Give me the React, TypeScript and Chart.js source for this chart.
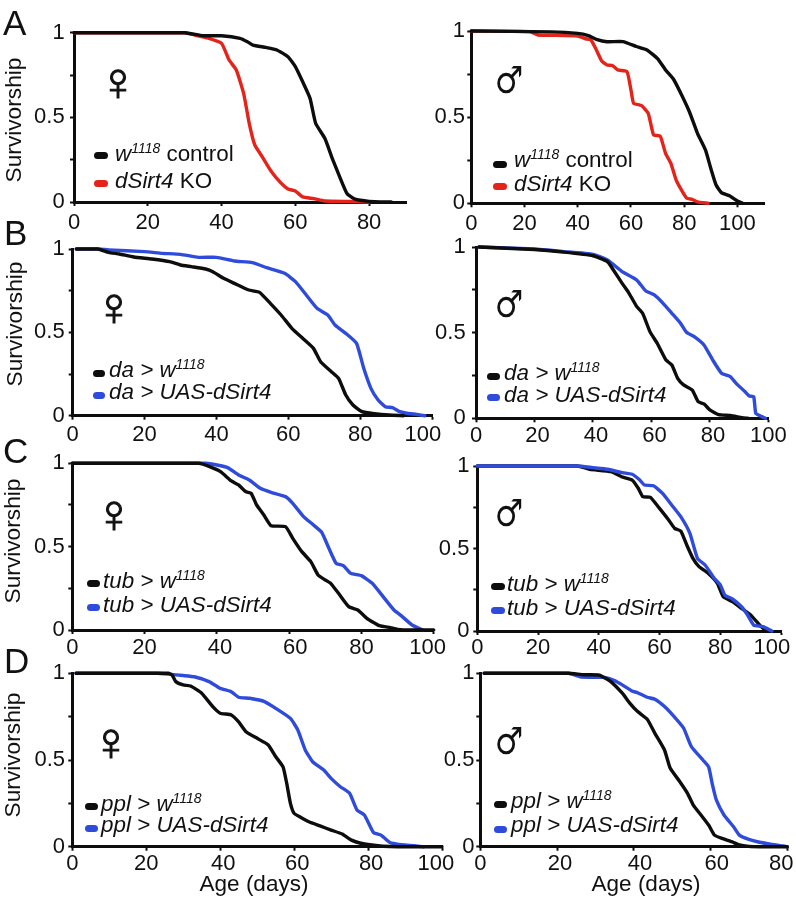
import React, { useEffect, useRef } from "react";
import { Chart, registerables } from "chart.js";

Chart.register(...registerables);

type Pt = [number, number];

const BLACK = "#0d0d0d";
const RED = "#e4231b";
const BLUE = "#2f4bdc";
const FONT = '"Liberation Sans", Arial, sans-serif';

const aFemaleControl: Pt[] = [[0,1],[30,1],[35,.982],[40,.982],[45,.967],[47,.947],[48.5,.927],[52,.913],[55,.898],[58,.858],[60,.8],[62,.71],[64,.612],[65.5,.465],[68,.376],[70,.258],[72,.15],[74,.05],[76,.018],[80,.004],[86,0]];
const aFemaleKO: Pt[] = [[0,1],[30,1],[33,.985],[36,.97],[40,.937],[42,.84],[44,.78],[46,.64],[47.5,.465],[49,.337],[51,.268],[53.5,.18],[56,.114],[58,.077],[60,.065],[62,.03],[65,.02],[68,.006],[75,.003],[80,0]];
const aMaleControl: Pt[] = [[0,1],[30,.995],[40,.986],[44,.973],[47,.952],[51,.938],[57,.938],[62,.91],[66,.89],[70,.84],[73,.774],[76,.72],[79,.63],[82,.53],[85,.406],[88,.31],[90,.203],[92,.106],[94,.062],[97,.044],[100,.013],[102,0]];
const aMaleKO: Pt[] = [[0,1],[17,.998],[22,.996],[25,.977],[30,.975],[40,.971],[43,.955],[45,.948],[47,.89],[49,.826],[51,.803],[53,.8],[55,.774],[58.5,.764],[60,.658],[61,.58],[64,.567],[66.5,.522],[68.5,.397],[71,.39],[73,.29],[75,.232],[77,.135],[79,.077],[81,.029],[83,.023],[85,.008],[89,0]];

const bFemaleControl: Pt[] = [[1,1],[7,1],[10,.98],[13,.97],[17,.952],[22,.94],[27,.924],[30,.904],[33,.894],[37,.88],[39,.864],[42,.824],[45,.794],[49,.754],[52,.74],[55,.674],[58,.604],[61,.524],[64,.464],[67,.404],[69,.324],[72,.264],[74,.224],[76,.124],[78,.064],[80.5,.024],[84,.012],[88,.004],[92,0]];
const bFemaleSirt: Pt[] = [[1,1],[7,1],[10,.995],[20,.984],[25,.974],[30,.968],[35,.95],[40,.95],[45,.928],[50,.918],[54,.888],[59,.854],[62,.804],[65,.724],[68,.644],[71,.604],[73,.544],[76,.494],[79,.434],[81,.284],[83,.164],[85,.094],[87,.054],[89,.048],[91,.024],[93,.015],[95,.01],[98,0]];
const bMaleControl: Pt[] = [[1,1],[20,.985],[30,.97],[40,.949],[45,.914],[47,.866],[50,.788],[52,.74],[55,.652],[57,.613],[59.5,.506],[62,.438],[65,.34],[67,.311],[69,.233],[71,.195],[74,.165],[76,.097],[78,.084],[80,.049],[83,.021],[87,.016],[91,.004],[93,0]];
const bMaleSirt: Pt[] = [[1,1],[20,.988],[30,.973],[40,.957],[45,.924],[50,.856],[55,.807],[58,.745],[61,.72],[64,.671],[67,.613],[70,.554],[72,.502],[75,.473],[78,.428],[81,.34],[84,.263],[87,.243],[89,.204],[92,.156],[93.5,.13],[95,.126],[95.7,.029],[97,.016],[99,0]];

const cFemaleControl: Pt[] = [[0,1],[35,1],[38,.98],[41,.95],[44,.894],[46,.87],[48,.83],[49.5,.82],[51,.75],[53,.69],[55,.626],[59,.62],[61,.55],[63.5,.47],[66,.41],[68,.33],[70,.3],[71.5,.28],[74,.21],[76.5,.14],[79,.12],[81.5,.07],[85,.026],[88,.014],[90,.004],[94,0],[100,0]];
const cFemaleSirt: Pt[] = [[0,1],[37,1],[40,.99],[43,.974],[46,.93],[49,.9],[52,.85],[55,.826],[59,.8],[61,.76],[64,.68],[66.5,.634],[69,.586],[71,.49],[73,.4],[75,.386],[77,.34],[80,.326],[83,.28],[86,.2],[89,.12],[91,.086],[94,.03],[97,0]];
const cMaleControl: Pt[] = [[0,1],[33,1],[37,.98],[44,.966],[47.5,.935],[51,.915],[53,.865],[54.5,.814],[57,.81],[60,.743],[63,.673],[65,.622],[67,.606],[69,.52],[71,.44],[73,.39],[76,.35],[79,.29],[81,.208],[84,.178],[87,.137],[90,.097],[93,.036],[94.5,.01],[96,0]];
const cMaleSirt: Pt[] = [[0,1],[33,1],[38,.99],[43,.98],[47,.962],[51,.95],[53.5,.915],[55,.885],[58,.88],[61,.834],[64,.764],[67,.693],[70,.592],[72.5,.44],[75,.4],[78,.32],[80,.28],[81.5,.218],[84,.194],[87,.147],[89,.097],[91,.036],[94,.026],[97,0]];

const dFemaleControl: Pt[] = [[1,1],[26,1],[27,.99],[28,.952],[30,.933],[32,.927],[35,.885],[38,.808],[40,.77],[43,.76],[45,.72],[47,.663],[50,.625],[53,.587],[55,.52],[57,.46],[58,.365],[59,.25],[60,.192],[61.5,.173],[64,.144],[67,.12],[70,.096],[73,.073],[75.5,.038],[78,.02],[81,.01],[84,.003],[88,0],[100,0]];
const dFemaleSirt: Pt[] = [[1,1],[23,1],[26,.995],[30,.987],[33,.98],[37,.952],[40,.913],[43,.894],[45,.862],[48,.856],[52,.837],[55,.798],[59,.74],[61,.673],[63,.558],[65,.49],[68,.442],[70,.394],[72.5,.346],[75,.308],[77,.212],[79,.183],[81.5,.081],[83.5,.067],[86,.023],[90,.01],[95,0]];
const dMaleControl: Pt[] = [[1,1],[23,1],[27,.992],[31,.99],[34,.952],[37,.885],[39,.827],[41,.779],[43.5,.735],[45.5,.654],[48,.558],[49.5,.452],[52,.375],[54,.308],[55.5,.24],[57.5,.183],[59.5,.125],[61,.067],[63,.048],[65.5,.029],[67.5,.01],[70,.002],[73,0],[80,0]];
const dMaleSirt: Pt[] = [[1,1],[23,1],[26,.98],[30,.977],[32,.977],[35,.958],[37,.933],[39.5,.898],[41,.888],[43.5,.862],[45.5,.85],[48,.808],[50.5,.75],[53,.683],[55,.577],[58,.5],[59.5,.46],[60.5,.356],[61.5,.27],[63.5,.183],[66,.115],[67.5,.067],[70,.042],[72.5,.027],[76,.013],[79,.004],[80,0]];

const yTickValues = [0, 0.25, 0.5, 0.75, 1];
const yTickLabels: Record<string, string> = { "0": "0", "0.5": "0.5", "1": "1" };
const YLABEL = "Survivorship";
const XLABEL = "Age (days)";
const FEMALE = "\u2640";
const MALE = "\u2642";

type Series = { data: Pt[]; color: string };
type Panel = {
  x0: number; xEnd: number; xMax: number; yTop: number; yBottom: number;
  series: Series[]; xPad: number; yGap: number;
  nudge?: Record<number, number>;
};

const panels: Panel[] = [
  { x0: 74, xEnd: 406, xMax: 90, yTop: 32.7, yBottom: 202, xPad: 4, yGap: 11, series: [{ data: aFemaleControl, color: BLACK }, { data: aFemaleKO, color: RED }] },
  { x0: 471.3, xEnd: 764, xMax: 110, yTop: 31, yBottom: 203.3, xPad: 3, yGap: 8, series: [{ data: aMaleControl, color: BLACK }, { data: aMaleKO, color: RED }] },
  { x0: 72.7, xEnd: 432, xMax: 100, yTop: 249, yBottom: 415.7, xPad: 2, yGap: 9.7, nudge: { 100: -3 }, series: [{ data: bFemaleControl, color: BLACK }, { data: bFemaleSirt, color: BLUE }] },
  { x0: 476, xEnd: 768.3, xMax: 100, yTop: 247, yBottom: 418.3, xPad: 0, yGap: 12, nudge: { 20: 1, 40: 1, 60: 1, 80: 1 }, series: [{ data: bMaleControl, color: BLACK }, { data: bMaleSirt, color: BLUE }] },
  { x0: 72.3, xEnd: 433.7, xMax: 100, yTop: 463.3, yBottom: 630, xPad: 1, yGap: 9.3, nudge: { 40: 1, 60: 2, 100: -2 }, series: [{ data: cFemaleControl, color: BLACK }, { data: cFemaleSirt, color: BLUE }] },
  { x0: 477.3, xEnd: 781, xMax: 100, yTop: 466, yBottom: 631, xPad: 0, yGap: 9.6, nudge: { 100: -3 }, series: [{ data: cMaleSirt, color: BLUE }, { data: cMaleControl, color: BLACK }] },
  { x0: 72.3, xEnd: 442, xMax: 100, yTop: 673.3, yBottom: 846.7, xPad: 0.5, yGap: 9, nudge: { 40: 1, 60: 1, 80: 1, 100: -2 }, series: [{ data: dFemaleControl, color: BLACK }, { data: dFemaleSirt, color: BLUE }] },
  { x0: 480.3, xEnd: 787.3, xMax: 80, yTop: 673.3, yBottom: 846.7, xPad: 0.5, yGap: 7.6, nudge: { 20: 1, 40: 2, 60: 2, 80: -2 }, series: [{ data: dMaleControl, color: BLACK }, { data: dMaleSirt, color: BLUE }] },
];

function nudged(v: number, n?: number) {
  const s = String(v);
  if (!n) return s;
  const pad = " ".repeat(Math.abs(n));
  return n > 0 ? pad + s : s + pad;
}

function PanelChart({ p }: { p: Panel }) {
  const ref = useRef<HTMLCanvasElement>(null);
  const L = Math.floor(p.x0 - 50);
  const T = Math.floor(p.yTop - 20);
  const W = Math.ceil(p.xEnd + 30 - L);
  const H = Math.ceil(p.yBottom + 36 - T);
  useEffect(() => {
    const chart = new Chart(ref.current as HTMLCanvasElement, {
      type: "line",
      data: {
        datasets: p.series.map((s) => ({
          data: s.data.map(([x, y]) => ({ x, y })),
          borderColor: s.color,
          borderWidth: 3.4,
          pointRadius: 0,
          tension: 0.15,
          borderCapStyle: "round",
          borderJoinStyle: "round",
          clip: false,
          fill: false,
        })),
      },
      options: {
        animation: false,
        responsive: false,
        maintainAspectRatio: false,
        layout: { padding: { left: 0, top: p.yTop - T, right: L + W - p.xEnd, bottom: 0 } },
        plugins: { legend: { display: false }, tooltip: { enabled: false }, title: { display: false } },
        scales: {
          x: {
            type: "linear",
            min: 0,
            max: p.xMax,
            border: { color: BLACK, width: 3 },
            grid: { drawOnChartArea: false, tickLength: 4, tickWidth: 2, tickColor: BLACK },
            ticks: {
              stepSize: 20,
              includeBounds: false,
              maxRotation: 0,
              autoSkip: false,
              padding: p.xPad,
              color: "#111",
              font: { family: FONT, size: 22 },
              callback: (v: any) => nudged(v, p.nudge?.[v]),
            },
            afterFit: (s: any) => { s.height = T + H - p.yBottom; },
          },
          y: {
            type: "linear",
            min: 0,
            max: 1,
            border: { color: BLACK, width: 3 },
            grid: { drawOnChartArea: false, tickLength: 4, tickWidth: 2, tickColor: BLACK },
            ticks: {
              stepSize: 0.25,
              padding: p.yGap - 5.7,
              color: "#111",
              font: { family: FONT, size: 22 },
              callback: (v: any) => yTickLabels[String(v)] ?? "",
            },
            afterBuildTicks: (s: any) => { s.ticks = yTickValues.map((value) => ({ value })); },
            afterFit: (s: any) => { s.width = p.x0 - L; },
          },
        },
      } as any,
    });
    return () => chart.destroy();
  }, []);
  return <canvas ref={ref} width={W} height={H} style={{ position: "absolute", left: L, top: T }} />;
}

function Txt({ x, base, size, children, style }: any) {
  return (
    <span style={{ position: "absolute", left: x, top: base - 0.8465 * size, fontFamily: FONT, fontSize: size, lineHeight: 1, whiteSpace: "nowrap", color: "#111", ...style }}>
      {children}
    </span>
  );
}

const Sup = () => (
  <span style={{ fontSize: 14, position: "relative", top: -8, lineHeight: 0 }}>1118</span>
);

function LegendRow({ sx, sw, sy, color, tx, base, children }: any) {
  return (
    <>
      <span style={{ position: "absolute", left: sx, top: sy - 3.5, width: sw, height: 7, borderRadius: 4, background: color }} />
      <Txt x={tx} base={base} size={22.4}>{children}</Txt>
    </>
  );
}

function Sex({ cx, cy, glyph }: any) {
  const male = glyph === MALE;
  return (
    <span
      style={{
        position: "absolute",
        left: cx,
        top: cy,
        transform: male ? "translate(-50%,-50%) scale(0.88,1.05)" : "translate(-50%,-50%)",
        fontFamily: male ? '"DejaVu Sans", sans-serif' : FONT,
        fontSize: male ? 36 : 54,
        WebkitTextStroke: male ? undefined : "1px #111",
        lineHeight: 1,
        color: "#111",
      }}
    >
      {glyph}
    </span>
  );
}

function YT({ cx, cy }: any) {
  return (
    <span style={{ position: "absolute", left: cx, top: cy, transform: "translate(-50%,-50%) rotate(-90deg)", fontFamily: FONT, fontSize: 22.7, lineHeight: 1, whiteSpace: "nowrap", color: "#111" }}>
      {YLABEL}
    </span>
  );
}

function XT({ cx, base }: any) {
  return <Txt x={cx} base={base} size={22.5} style={{ transform: "translateX(-50%)" }}>{XLABEL}</Txt>;
}

const I = ({ children }: any) => <i>{children}</i>;

export default function App() {
  return (
    <div style={{ position: "absolute", left: 0, top: 0, width: 796, height: 897, background: "#fff", overflow: "hidden" }}>
      {panels.map((p, i) => <PanelChart key={i} p={p} />)}

      <Txt x={3} base={35} size={35}>A</Txt>
      <Txt x={4} base={245} size={35}>B</Txt>
      <Txt x={3} base={463} size={35}>C</Txt>
      <Txt x={4} base={673} size={35}>D</Txt>

      <YT cx={12.5} cy={119.5} />
      <YT cx={13.5} cy={323.7} />
      <YT cx={11.5} cy={541} />
      <YT cx={11.5} cy={755} />
      <XT cx={254} base={892} />
      <XT cx={646} base={892} />

      <Sex cx={118} cy={81} glyph={FEMALE} />
      <Sex cx={509} cy={80} glyph={MALE} />
      <Sex cx={114} cy={306} glyph={FEMALE} />
      <Sex cx={509} cy={304} glyph={MALE} />
      <Sex cx={114} cy={513} glyph={FEMALE} />
      <Sex cx={509} cy={513} glyph={MALE} />
      <Sex cx={111} cy={741} glyph={FEMALE} />
      <Sex cx={509} cy={741} glyph={MALE} />

      <LegendRow sx={94} sw={14} sy={155} color={BLACK} tx={115} base={162}><I>w<Sup /></I> control</LegendRow>
      <LegendRow sx={94} sw={14} sy={183} color={RED} tx={115} base={189}><I>dSirt4</I> KO</LegendRow>
      <LegendRow sx={493} sw={14} sy={164} color={BLACK} tx={514} base={168}><I>w<Sup /></I> control</LegendRow>
      <LegendRow sx={493} sw={14} sy={186} color={RED} tx={514} base={192}><I>dSirt4</I> KO</LegendRow>

      <LegendRow sx={93} sw={12} sy={373} color={BLACK} tx={109} base={378}><I>da &gt; w<Sup /></I></LegendRow>
      <LegendRow sx={93} sw={12} sy={395} color={BLUE} tx={109} base={400}><I>da &gt; UAS-dSirt4</I></LegendRow>
      <LegendRow sx={487} sw={13} sy={376} color={BLACK} tx={504} base={381}><I>da &gt; w<Sup /></I></LegendRow>
      <LegendRow sx={487} sw={13} sy={397} color={BLUE} tx={504} base={403}><I>da &gt; UAS-dSirt4</I></LegendRow>

      <LegendRow sx={87} sw={13} sy={583} color={BLACK} tx={103} base={589}><I>tub &gt; w<Sup /></I></LegendRow>
      <LegendRow sx={87} sw={13} sy={607} color={BLUE} tx={103} base={613}><I>tub &gt; UAS-dSirt4</I></LegendRow>
      <LegendRow sx={491} sw={14} sy={586} color={BLACK} tx={507} base={592}><I>tub &gt; w<Sup /></I></LegendRow>
      <LegendRow sx={491} sw={14} sy={610} color={BLUE} tx={507} base={616}><I>tub &gt; UAS-dSirt4</I></LegendRow>

      <LegendRow sx={85} sw={13} sy={806} color={BLACK} tx={101} base={812}><I>ppl &gt; w<Sup /></I></LegendRow>
      <LegendRow sx={85} sw={13} sy={828} color={BLUE} tx={101} base={833}><I>ppl &gt; UAS-dSirt4</I></LegendRow>
      <LegendRow sx={494} sw={13} sy={804} color={BLACK} tx={511} base={809}><I>ppl &gt; w<Sup /></I></LegendRow>
      <LegendRow sx={494} sw={13} sy={829} color={BLUE} tx={511} base={833}><I>ppl &gt; UAS-dSirt4</I></LegendRow>
    </div>
  );
}
